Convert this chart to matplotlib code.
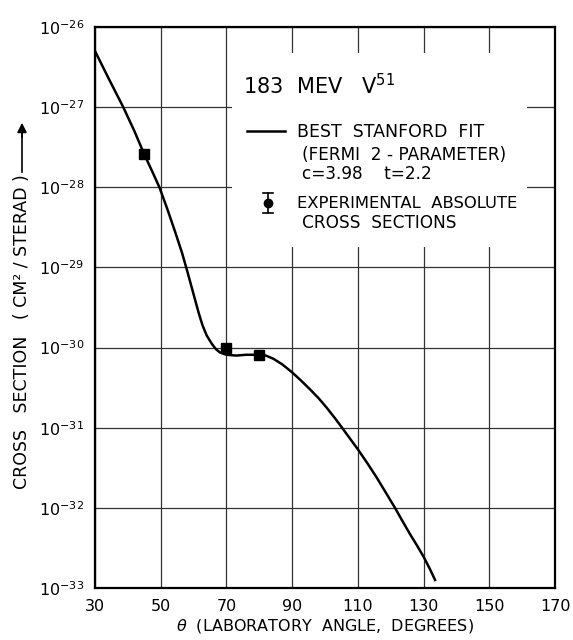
import numpy as np
import matplotlib
matplotlib.use("Agg")
import matplotlib.pyplot as plt
from matplotlib.patches import Rectangle

# Best Stanford fit (Fermi 2-parameter): angle (deg), log10 cross section
fit_theta = [30, 34, 38.6, 42, 45, 47.5, 49.6, 52, 54.5, 56.5, 58.1, 59.3, 60.3,
             61.5, 62.7, 64, 65.5, 66.8, 68, 70, 73, 76, 80, 82, 84.3, 87, 90,
             92.4, 95.4, 98, 100.5, 103, 105, 107.5, 110, 113, 115.7, 118.5,
             121.3, 123.5, 125.9, 128, 130, 132, 133.5]
fit_log = [-26.30, -26.63, -27.0, -27.30, -27.59, -27.81, -28.0, -28.27, -28.57,
           -28.82, -29.05, -29.23, -29.38, -29.56, -29.72, -29.85, -29.95, -30.02,
           -30.06, -30.09, -30.10, -30.09, -30.09, -30.10, -30.14, -30.21, -30.31,
           -30.40, -30.52, -30.63, -30.75, -30.88, -30.99, -31.13, -31.27, -31.45,
           -31.62, -31.81, -32.0, -32.16, -32.33, -32.47, -32.61, -32.77, -32.90]

# experimental absolute cross sections (cm^2/sterad)
exp_theta = [45, 70, 80]
exp_sigma = [2.6e-28, 1.0e-30, 8.0e-31]
exp_err = [0.25e-28, 0.1e-30, 0.6e-31]

x_ticks = [30, 50, 70, 90, 110, 130, 150, 170]
y_decades = [-33, -32, -31, -30, -29, -28, -27, -26]

plt.rcParams["font.family"] = "DejaVu Sans"
plt.rcParams["mathtext.fontset"] = "dejavusans"

fig = plt.figure(figsize=(5.73, 6.4), dpi=100)
ax = fig.add_axes([0.1658, 0.0813, 0.8028, 0.8765])

fit_sigma = 10.0 ** np.array(fit_log)
ax.plot(fit_theta, fit_sigma, color="black", linewidth=1.8, zorder=3,
        solid_joinstyle="round")
ax.errorbar(exp_theta, exp_sigma, yerr=exp_err, fmt="s", color="black",
            markersize=7, elinewidth=1.2, capsize=3.5, zorder=4)

ax.set_yscale("log")
ax.set_xlim(30, 170)
ax.set_ylim(10.0 ** y_decades[0], 10.0 ** y_decades[-1])
ax.set_xticks(x_ticks)
ax.set_xticklabels([str(t) for t in x_ticks], fontsize=11.5)
ax.set_yticks([10.0 ** d for d in y_decades])
ax.set_yticklabels([r"$10^{%d}$" % d for d in y_decades], fontsize=11.5)
ax.minorticks_off()
ax.tick_params(length=0, pad=8)

ax.set_axisbelow(True)
ax.grid(True, color="#333333", linewidth=0.9)
for sp in ax.spines.values():
    sp.set_linewidth(1.6)

# white panel holding the key, covers the grid
ax.add_patch(Rectangle((0.298, 0.608), 0.641, 0.346, transform=ax.transAxes,
                       facecolor="white", edgecolor="none", zorder=1))

ax.text(0.322, 0.881, r"183  MEV   V$^{51}$", transform=ax.transAxes,
        fontsize=15, va="baseline", zorder=5)
ax.plot([0.330, 0.413], [0.815, 0.815], transform=ax.transAxes,
        color="black", linewidth=1.8, zorder=5)
ax.text(0.439, 0.804, "BEST  STANFORD  FIT", transform=ax.transAxes,
        fontsize=12.5, va="baseline", zorder=5)
ax.text(0.450, 0.763, "(FERMI  2 - PARAMETER)", transform=ax.transAxes,
        fontsize=12.2, va="baseline", zorder=5)
ax.text(0.450, 0.729, "c=3.98    t=2.2", transform=ax.transAxes,
        fontsize=12.2, va="baseline", zorder=5)
# key symbol for experimental points
ax.plot([0.376, 0.376], [0.668, 0.704], transform=ax.transAxes,
        color="black", linewidth=1.2, zorder=5)
ax.plot([0.365, 0.387], [0.704, 0.704], transform=ax.transAxes,
        color="black", linewidth=1.2, zorder=5)
ax.plot([0.365, 0.387], [0.668, 0.668], transform=ax.transAxes,
        color="black", linewidth=1.2, zorder=5)
ax.plot([0.376], [0.686], "o", transform=ax.transAxes, color="black",
        markersize=6, zorder=5)
ax.text(0.439, 0.677, "EXPERIMENTAL  ABSOLUTE", transform=ax.transAxes,
        fontsize=11.8, va="baseline", zorder=5)
ax.text(0.450, 0.642, "CROSS  SECTIONS", transform=ax.transAxes,
        fontsize=12.2, va="baseline", zorder=5)

ax.set_xlabel(r"$\theta$  (LABORATORY  ANGLE,  DEGREES)", fontsize=11.5, labelpad=2)

fig.text(22 / 573, 1 - 332 / 640, "CROSS   SECTION   ( CM² / STERAD )",
         rotation=90, ha="center", va="center", fontsize=12.5)
fig.add_artist(plt.Line2D([22 / 573, 22 / 573], [1 - 172 / 640, 1 - 130 / 640],
                          color="black", linewidth=1.2))
ax.annotate("", xy=(22 / 573, 1 - 120 / 640), xycoords="figure fraction",
            xytext=(22 / 573, 1 - 140 / 640), textcoords="figure fraction",
            arrowprops=dict(arrowstyle="-|>", color="black", lw=1.2,
                            mutation_scale=14))

fig.savefig("out.png", dpi=100)
